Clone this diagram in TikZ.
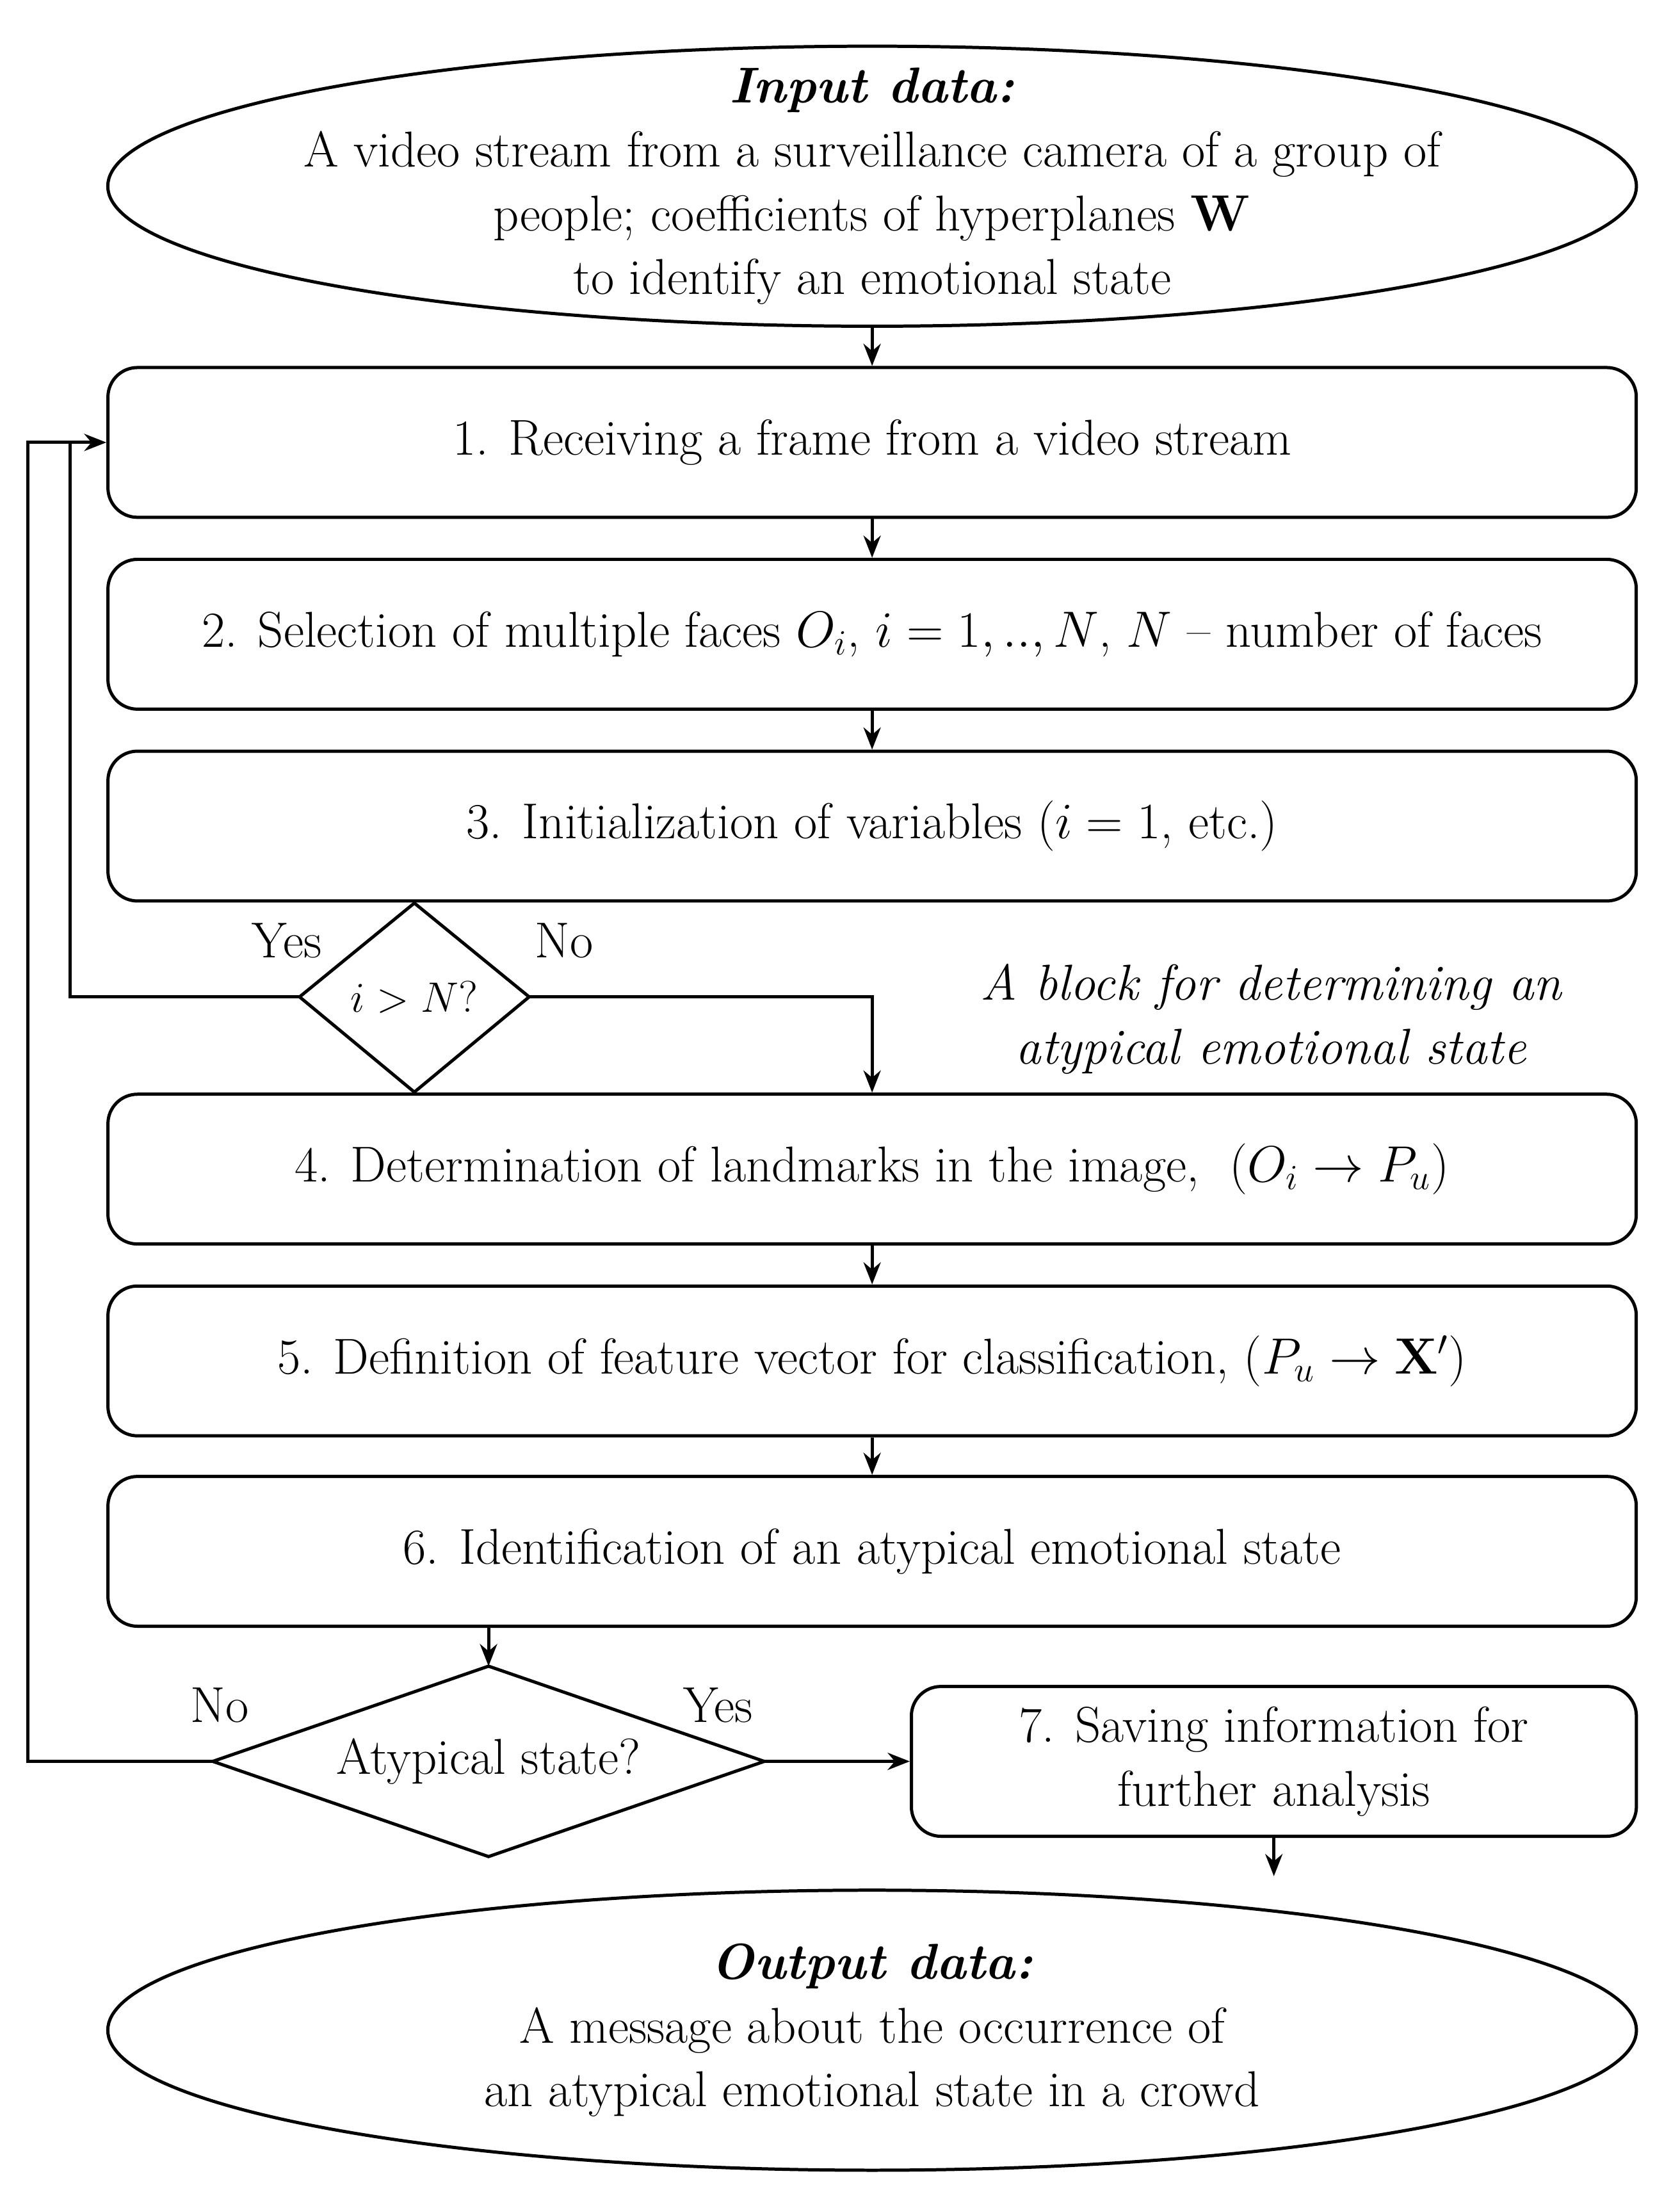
\documentclass[tikz,border=0pt]{standalone}
\usetikzlibrary{shapes.geometric,arrows.meta}
\begin{document}
\fontsize{20.5}{26}\selectfont
\begin{tikzpicture}[x=0.02cm,y=-0.02cm,
 box/.style={draw,line width=1.3pt,rounded corners=12pt,minimum width=21.84cm,minimum height=2.14cm,inner sep=0pt,align=center},
 arr/.style={line width=1.3pt,-{Stealth[length=9pt,width=7pt]}},
 ln/.style={line width=1.3pt}]
\useasboundingbox (0,0) rectangle (1200,1577);
\draw[ln] (623,133) ellipse [x radius=546, y radius=100];
\node[align=center] (in) at (623,133) {\textbf{\textit{Input data:}}\\A video stream from a surveillance camera of a group of\\people; coefficients of hyperplanes $\mathbf{W}$\\to identify an emotional state};
\coordinate (inS) at (623,233);
\node[box] (b1) at (623,316) {1. Receiving a frame from a video stream};
\node[box] (b2) at (623,453) {2. Selection of multiple faces $O_i$, $i=1,..,N$, $N$ -- number of faces};
\node[box] (b3) at (623,590) {3. Initialization of variables ($i=1$, etc.)};
\coordinate (d1n) at (296,645); \coordinate (d1s) at (296,780);
\coordinate (d1w) at (214,712); \coordinate (d1e) at (378,712);
\draw[ln] (d1n) -- (d1e) -- (d1s) -- (d1w) -- cycle;
\node[font=\fontsize{18}{22}\selectfont] (d1) at (296,712) {$i>N$?};
\node[box] (b4) at (623,835) {4. Determination of landmarks in the image,\ \ $(O_i\to P_u)$};
\node[box] (b5) at (623,972) {5. Definition of feature vector for classification, $(P_u\to \mathbf{X}')$};
\node[box] (b6) at (623,1108) {6. Identification of an atypical emotional state};
\coordinate (d2n) at (349,1190); \coordinate (d2s) at (349,1326);
\coordinate (d2w) at (152,1258); \coordinate (d2e) at (546,1258);
\draw[ln] (d2n) -- (d2e) -- (d2s) -- (d2w) -- cycle;
\node (d2) at (349,1258) {Atypical state?};
\node[box,minimum width=10.36cm] (b7) at (910,1258) {7. Saving information for\\further analysis};
\draw[ln] (623,1450) ellipse [x radius=546, y radius=100];
\node[align=center] (out) at (623,1450) {\textbf{\textit{Output data:}}\\A message about the occurrence of\\an atypical emotional state in a crowd};
\node[align=center] (note) at (908,728) {\itshape A block for determining an\\\itshape atypical emotional state};
\node (y1) at (205,672) {Yes};
\node (n1) at (403,672) {No};
\node (n2) at (157,1218) {No};
\node (y2) at (513,1218) {Yes};
\coordinate (L1) at (20,316);
\coordinate (L2) at (50,316);
\coordinate (e1) at (910,1340);
\draw[arr] (inS) -- (b1);
\draw[arr] (b1) -- (b2);
\draw[arr] (b2) -- (b3);
\draw[arr] (d1e) -| (b4.north);
\draw[ln] (d1w) -| (L2);
\draw[arr] (b4) -- (b5);
\draw[arr] (b5) -- (b6);
\draw[arr] (b6.south -| d2n) -- (d2n);
\draw[arr] (d2e) -- (b7.west);
\draw[arr] (d2w) -| (L1) -- (b1.west);
\draw[arr] (b7.south) -- (e1);
\end{tikzpicture}
\end{document}
